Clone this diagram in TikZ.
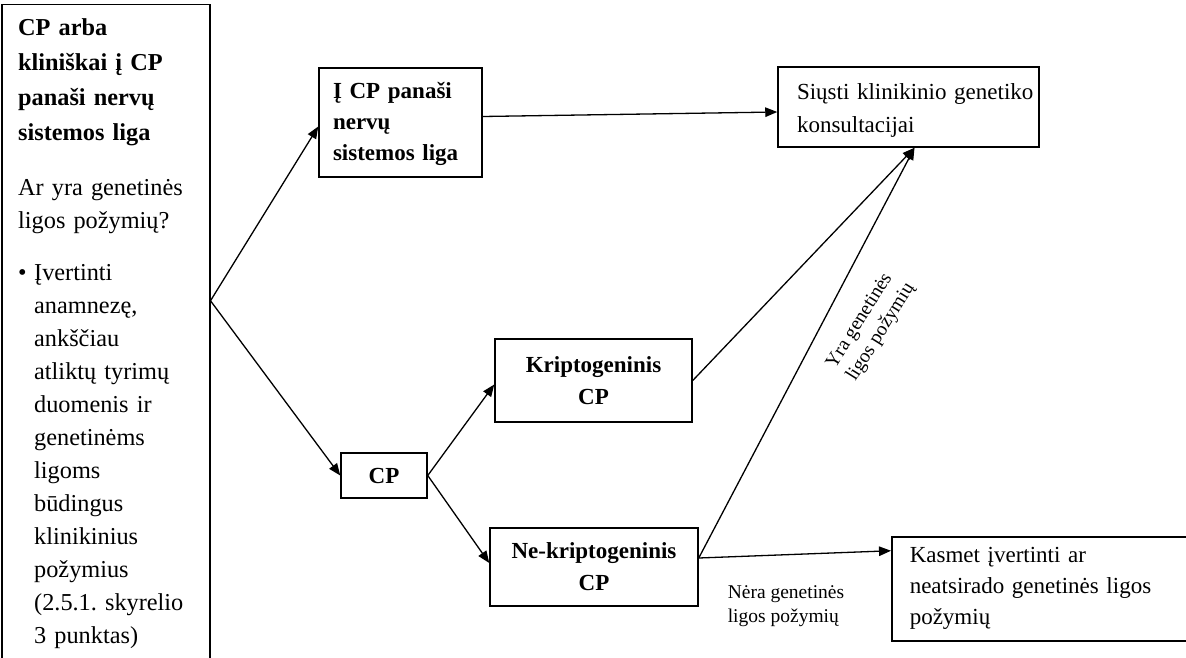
\documentclass[tikz,border=0pt]{standalone}
\usepackage{fontspec}
\setmainfont{Liberation Serif}
\usetikzlibrary{arrows.meta,calc}
\frenchspacing
\begin{document}
\begin{tikzpicture}[x=1pt,y=-1pt,
  box/.style={draw, line width=1.5pt, inner sep=0pt, font=\fontsize{23}{33}\selectfont},
  bbox/.style={box, font=\fontsize{23}{32}\selectfont\bfseries, align=center},
  arr/.style={line width=1.3pt, -{Triangle[length=12pt,width=9.5pt]}},
  lbl/.style={font=\fontsize{19.5}{24}\selectfont, align=left, inner sep=0pt}]
\useasboundingbox (0,0) rectangle (1186,658);

% left box
\node[box, minimum width=208pt, minimum height=690pt, anchor=north west] (L) at (1,4) {};
\node[anchor=north west, inner sep=0pt, text width=188pt, align=left,
      font=\fontsize{24.3}{33}\selectfont] (Lt) at (18,18)
 {\textbf{CP arba}\\[2pt]
  \textbf{kliniškai į CP}\\[2pt]
  \textbf{panaši nervų}\\[2pt]
  \textbf{sistemos liga}\\[22pt]
  Ar yra genetinės\\
  ligos požymių?\\[19pt]
  \makebox[16pt][l]{•}Įvertinti\\
  \hspace*{16pt}anamnezę,\\
  \hspace*{16pt}ankščiau\\
  \hspace*{16pt}atliktų tyrimų\\
  \hspace*{16pt}duomenis ir\\
  \hspace*{16pt}genetinėms\\
  \hspace*{16pt}ligoms\\
  \hspace*{16pt}būdingus\\
  \hspace*{16pt}klinikinius\\
  \hspace*{16pt}požymius\\
  \hspace*{16pt}(2.5.1. skyrelio\\
  \hspace*{16pt}3 punktas)};

% other boxes
\node[box, minimum width=163pt, minimum height=109pt, text width=135pt, align=left,
      font=\fontsize{23}{31}\selectfont\bfseries] (A) at (400.5,122.5)
 {\rule{0pt}{20pt}Į CP panaši\\nervų\\sistemos liga};
\node[box, minimum width=261pt, minimum height=80pt, text width=223pt, align=left] (S) at (908.5,107)
 {\rule{0pt}{22pt}\mbox{Siųsti klinikinio genetiko}\\konsultacijai};
\node[bbox, minimum width=197pt, minimum height=83pt] (K) at (593.5,380.5) {Kriptogeninis\\CP};
\node[bbox, minimum width=86pt, minimum height=45pt] (C) at (384,475.5) {CP};
\node[bbox, minimum width=208pt, minimum height=78pt] (N) at (594,567) {Ne-kriptogeninis\\CP};
\node[box, anchor=north west, minimum height=104pt, text width=270pt, align=left, inner xsep=18pt,
      font=\fontsize{23}{31}\selectfont] (M) at (891,536)
 {Kasmet įvertinti ar\\neatsirado genetinės ligos\\požymių};

% labels
\node[lbl, rotate=58] (yl) at (871,326) {Yra genetinės\\ligos požymių};
\node[lbl] (nl) at (786,606) {Nėra genetinės\\ligos požymių};

% connectors
\coordinate (Lp) at ([yshift=49pt]L.east);
\coordinate (T) at ([xshift=6pt]S.south);
\draw[arr] (Lp) -- ([yshift=-4pt]A.west);
\draw[arr] (Lp) -- (C.west);
\draw[arr] ([yshift=6pt]A.east) -- ([yshift=-5pt]S.west);
\draw[arr] (C.east) -- ([yshift=-4pt]K.west);
\draw[arr] (C.east) -- ([yshift=4pt]N.west);
\draw[arr] (K.east) -- (T);
\draw[arr] ([yshift=9pt]N.east) -- (T);
\draw[arr] ([yshift=9pt]N.east) -- ([yshift=38pt]M.west);
\end{tikzpicture}
\end{document}
